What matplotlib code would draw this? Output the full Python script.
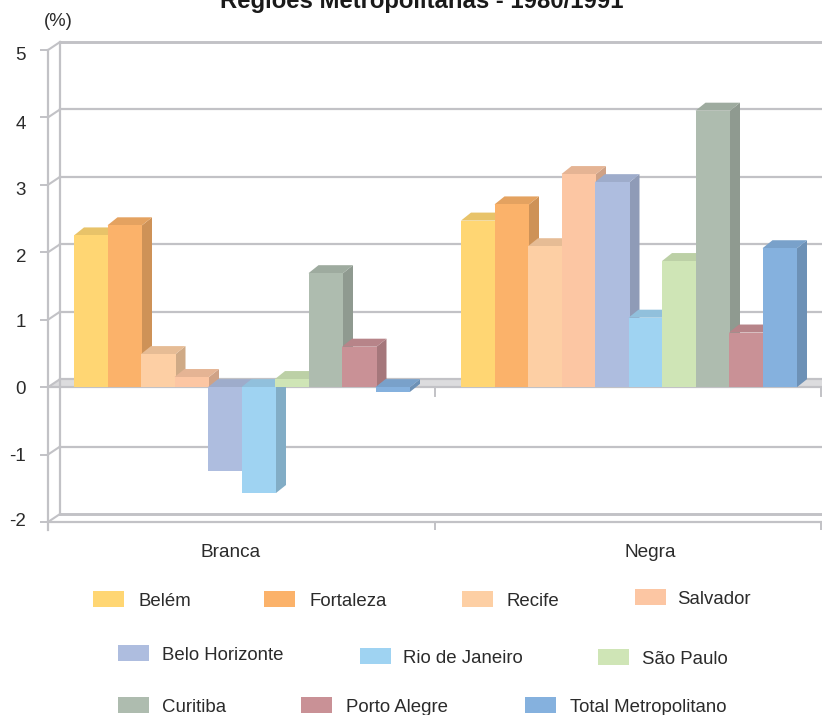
import matplotlib
matplotlib.use("Agg")
import matplotlib.pyplot as plt
from matplotlib.colors import to_rgb
from matplotlib.patches import Polygon, Rectangle
from matplotlib.transforms import ScaledTranslation

plt.rcParams["font.family"] = ["Liberation Sans", "DejaVu Sans"]

W, H = 822, 715
GRID = "#c2c2c6"
TEXT = "#2b2b2b"

categories = ["Branca", "Negra"]
series = ["Belém", "Fortaleza", "Recife", "Salvador", "Belo Horizonte",
          "Rio de Janeiro", "São Paulo", "Curitiba", "Porto Alegre",
          "Total Metropolitano"]
branca = [2.25, 2.40, 0.49, 0.15, -1.24, -1.57, 0.12, 1.69, 0.60, -0.07]
negra = [2.47, 2.71, 2.09, 3.16, 3.04, 1.03, 1.87, 4.10, 0.81, 2.06]
colors = ["#ffd673", "#fbb26a", "#fdcfa4", "#fcc6a3", "#aebddf",
          "#9fd3f2", "#cfe5b6", "#aebcaf", "#c99196", "#85b1de"]
yticks = [-2, -1, 0, 1, 2, 3, 4, 5]

# tick labels sit a little off their ticks in the original (pixels downward)
ylabel_shift = [-2, 0, 0, 1, 3, 4, 5, 4]

# legend placement in picture pixels: swatch left, swatch mid y, text left
legend_pos = [(93, 599, 138), (264, 599, 309), (462, 599, 506), (635, 597, 677),
              (118, 653, 162), (360, 656, 403), (598, 657, 642),
              (118, 705, 162), (301, 705, 346), (525, 705, 570)]


def shade(color, k):
    return tuple(c * k for c in to_rgb(color))


fig = plt.figure(figsize=(W / 100, H / 100), dpi=100)

# front plane of the 3d box: x 48..822, y 50..522 in pixels
ax = fig.add_axes([48 / W, 1 - 522 / H, (W - 48) / W, 472 / H])
ax.set_xlim(0, 2)
ax.set_ylim(-2, 5)
for s in ["top", "right"]:
    ax.spines[s].set_visible(False)
ax.spines["left"].set_color(GRID)
ax.spines["left"].set_linewidth(1.6)
ax.spines["left"].set_bounds(-2.12, 5)
ax.spines["bottom"].set_color(GRID)
ax.spines["bottom"].set_linewidth(1.6)
ax.patch.set_visible(False)

px_x = 2 / (W - 48)
px_y = 7 / 472
depth_x = 12 * px_x
depth_y = 8 * px_y
bar_depth_x = 10 * px_x
right_tick = 2 - 1.5 * px_x

ax.set_yticks(yticks)
ax.set_yticklabels([str(v) for v in yticks], fontsize=13.5, color=TEXT)
ax.tick_params(axis="y", length=5.8, width=1.4, color=GRID, pad=10)
for label, shift in zip(ax.get_yticklabels(), ylabel_shift):
    label.set_transform(label.get_transform() + ScaledTranslation(0, -shift / 100, fig.dpi_scale_trans))
ax.set_xticks([0, 1, right_tick])
ax.set_xticklabels(["", "", ""])
ax.tick_params(axis="x", which="major", length=5.8, width=1.4, color=GRID)
ax.set_xticks([0.473, 1.556], minor=True)
ax.set_xticklabels(categories, minor=True, fontsize=13.7, color=TEXT)
ax.tick_params(axis="x", which="minor", length=0, pad=16)

# back wall, side wall and floor at zero
ax.add_patch(Polygon([(0, 0), (depth_x, depth_y), (2, depth_y), (2, 0)],
                     fc="#dcdcde", ec="none", zorder=1))
for v in yticks:
    lw = 2.1 if v in (5, -2) else 1.6
    ax.plot([depth_x, 2], [v + depth_y] * 2, color=GRID, lw=lw, zorder=1, clip_on=False)
    ax.plot([0, depth_x], [v, v + depth_y], color=GRID, lw=1.5, zorder=1, clip_on=False)
ax.plot([depth_x, depth_x], [-2 + depth_y, 5 + depth_y], color=GRID, lw=1.6, zorder=1, clip_on=False)
ax.plot([0, 2], [0, 0], color=GRID, lw=1.6, zorder=1)
for x in [1, right_tick]:
    ax.plot([x, x], [0, -9 * px_y], color=GRID, lw=1.4, zorder=1)

# bars, painted left to right so each one covers the side of the previous
step = 33.5 * px_x
bar_w = 34.5 * px_x
margin = 26 * px_x
z = 3
for cat, values in enumerate([branca, negra]):
    for i, v in enumerate(values):
        left = cat + margin + i * step
        right = left + bar_w
        low, high = min(v, 0), max(v, 0)
        c = colors[i]
        ax.add_patch(Polygon([(right, low), (right + bar_depth_x, low + depth_y),
                              (right + bar_depth_x, high + depth_y), (right, high)],
                             fc=shade(c, 0.82), ec="none", zorder=z))
        ax.add_patch(Polygon([(left, high), (left + bar_depth_x, high + depth_y),
                              (right + bar_depth_x, high + depth_y), (right, high)],
                             fc=shade(c, 0.91), ec="none", zorder=z))
        ax.bar(left, v, width=bar_w, align="edge", color=c, zorder=z)
        z += 1

# overlay in picture pixels for title, unit and legend
ov = fig.add_axes([0, 0, 1, 1])
ov.set_xlim(0, W)
ov.set_ylim(H, 0)
ov.axis("off")
ov.patch.set_visible(False)

ov.text(422, 8, "Regiões Metropolitanas - 1980/1991", ha="center", va="baseline",
        fontsize=17.2, fontweight="bold", color="#1a1a1a", clip_on=False)
ov.text(58, 21, "(%)", ha="center", va="center", fontsize=13.3, color=TEXT)

for name, c, (sx, sy, tx) in zip(series, colors, legend_pos):
    ov.add_patch(Rectangle((sx, sy - 8), 31, 16, fc=c, ec="none"))
    ov.text(tx, sy + 2.5, name, ha="left", va="center", fontsize=13.4, color=TEXT)

fig.savefig("out.png", dpi=100)
